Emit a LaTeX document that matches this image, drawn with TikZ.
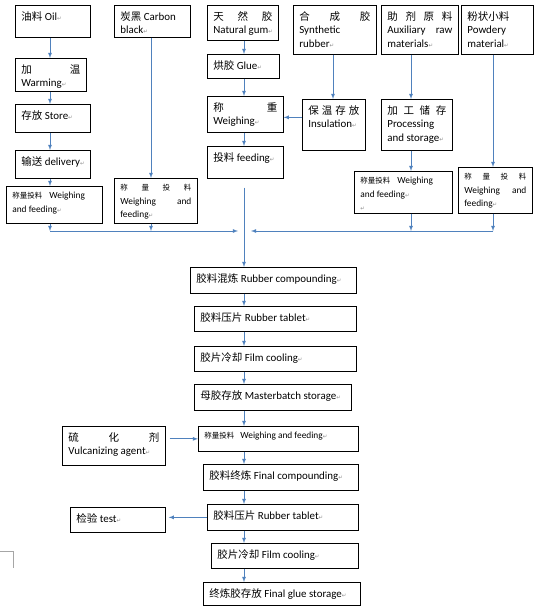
\documentclass[tikz,border=0pt]{standalone}
\usepackage{fontspec}
\setmainfont{Carlito}[Scale=1.04]
\newfontfamily\cjk{Noto Sans CJK SC}
\newfontfamily\retfont{DejaVu Sans}
\definecolor{flowblue}{RGB}{79,129,189}
\newcommand{\zh}[1]{{\cjk #1}}
\newcommand{\zhs}[1]{{\cjk\fontsize{7.5}{13.5}\selectfont #1}}
\newcommand{\ret}{{\retfont\fontsize{5.5}{5.5}\selectfont\color{black!45}↵}}
\newcommand{\boxtext}[3]{\parbox[c][#2pt][t]{#1pt}{\raggedright\vspace*{2pt}#3}}

\begin{document}
\begin{tikzpicture}[x=1pt,y=-1pt]
\tikzstyle{box}=[draw,line width=0.7pt,anchor=north west,inner xsep=6pt,inner ysep=4pt,font=\fontsize{10.5}{13.5}\selectfont]
\tikzstyle{smallbox}=[box,font=\fontsize{9}{13.5}\selectfont]
\tikzstyle{flow}=[draw=flowblue,line width=0.8pt,-latex]
\useasboundingbox (0,0) rectangle (540,607);
% raw materials
\node[box] (oil) at (15,5) {\boxtext{63}{24}{\zh{油料} Oil\ret}};
\node[box] (carbon) at (114,5) {\boxtext{64}{24}{\mbox{\zh{炭黑} Carbon}\\black\ret}};
\node[box] (natural) at (207,5) {\boxtext{59}{27}{\makebox[\linewidth][s]{\zh{天\hfill 然\hfill 胶}}\\\mbox{Natural gum\ret}}};
\node[box] (synthetic) at (293,5) {\boxtext{71}{41}{\makebox[\linewidth][s]{\zh{合\hfill 成\hfill 胶}}\\Synthetic\\rubber\ret}};
\node[box] (auxiliary) at (381,5) {\boxtext{65}{41}{\makebox[\linewidth][s]{\zh{助\hfill 剂\hfill 原\hfill 料}}\\\makebox[\linewidth][s]{Auxiliary raw}\\materials\ret}};
\node[box] (powdery) at (461,5) {\boxtext{60}{41}{\zh{粉状小料}\\Powdery\\material\ret}};
% preparation
\node[box] (warming) at (15,58) {\boxtext{59}{25}{\makebox[\linewidth][s]{\zh{加\hfill 温}}\\Warming\ret}};
\node[box] (glue) at (207,54) {\boxtext{60}{16}{\mbox{\zh{烘胶} Glue\ret}}};
\node[box] (store) at (15,104) {\boxtext{63}{20}{\mbox{\zh{存放} Store\ret}}};
\node[box] (weighing) at (207,96) {\boxtext{64}{28}{\makebox[\linewidth][s]{\zh{称\hfill 重}}\\Weighing\ret}};
\node[box] (insulation) at (302,99) {\boxtext{51}{43}{\makebox[\linewidth][s]{\zh{保\hfill 温\hfill 存\hfill 放}}\\Insulation\ret}};
\node[box] (processing) at (381,99) {\boxtext{59}{43}{\makebox[\linewidth][s]{\zh{加\hfill 工\hfill 储\hfill 存}}\\Processing\\\mbox{and storage\ret}}};
\node[box] (feeding) at (207,146) {\boxtext{64}{24}{\mbox{\zh{投料} feeding\ret}}};
\node[box] (delivery) at (15,150) {\boxtext{63}{20}{\mbox{\zh{输送} delivery\ret}}};
% weighing and feeding
\node[smallbox] (wf1) at (6,186) {\boxtext{84}{29}{\zhs{称量投料}\hspace{7pt}Weighing\\and feeding\ret}};
\node[smallbox] (wf2) at (114,178) {\boxtext{71}{37}{\makebox[\linewidth][s]{\zhs{称\hfill 量\hfill 投\hfill 料}}\\\makebox[\linewidth][s]{Weighing\hfill and}\\feeding\ret}};
\node[smallbox] (wf3) at (354,171) {\boxtext{86}{34}{\zhs{称量投料}\hspace{7pt}Weighing\\and feeding\ret\\\ret}};
\node[smallbox] (wf4) at (458,167) {\boxtext{62}{38}{\makebox[\linewidth][s]{\zhs{称\hfill 量\hfill 投\hfill 料}}\\\makebox[\linewidth][s]{Weighing\hfill and}\\feeding\ret}};
% main line
\node[box] (compound) at (190,267) {\boxtext{154}{18}{\mbox{\zh{胶料混炼} Rubber compounding\ret}}};
\node[box] (tablet) at (194,306) {\boxtext{150}{17}{\zh{胶料压片} Rubber tablet\ret}};
\node[box] (cooling) at (194,346) {\boxtext{150}{17}{\zh{胶片冷却} Film cooling\ret}};
\node[box] (master) at (194,384) {\boxtext{145}{18}{\mbox{\zh{母胶存放} Masterbatch storage\ret}}};
\node[box] (vulc) at (62,426) {\boxtext{91}{31}{\makebox[\linewidth][s]{\zh{硫\hfill 化\hfill 剂}}\\\mbox{Vulcanizing agent\ret}}};
\node[smallbox] (wf5) at (198,426) {\boxtext{148}{17}{\zhs{称量投料}\hspace{6pt}Weighing and feeding\ret}};
\node[box] (final) at (203,464) {\boxtext{143}{18}{\mbox{\zh{胶料终炼} Final compounding\ret}}};
\node[box] (tablet2) at (207,504) {\boxtext{139}{18}{\zh{胶料压片} Rubber tablet\ret}};
\node[box] (test) at (70,507) {\boxtext{83}{17}{\zh{检验} test\ret}};
\node[box] (cooling2) at (211,543) {\boxtext{135}{17}{\zh{胶片冷却} Film cooling\ret}};
\node[box] (store2) at (203,582) {\boxtext{145}{15}{\mbox{\zh{终炼胶存放} Final glue storage\ret}}};
% columns and collecting line
\coordinate (c1) at (50,0);
\coordinate (c2) at (151,0);
\coordinate (c3) at (244,0);
\coordinate (c4) at (333,0);
\coordinate (c5) at (411,0);
\coordinate (c6) at (493,0);
\coordinate (bus) at (0,231);
\coordinate (busl) at (238,231);
\coordinate (busr) at (251,231);
\draw[flow] (oil.south -| c1) -- (warming.north -| c1);
\draw[flow] (warming.south -| c1) -- (store.north -| c1);
\draw[flow] (store.south -| c1) -- (delivery.north -| c1);
\draw[flow] (delivery.south -| c1) -- (wf1.north -| c1);
\draw[flow] (wf1.south -| c1) -- (c1 |- bus);
\draw[flow] (c1 |- bus) -- (busl);
\draw[flow] (carbon.south -| c2) -- (wf2.north -| c2);
\draw[flow] (wf2.south -| c2) -- (c2 |- bus);
\draw[flow] (natural.south -| c3) -- (glue.north -| c3);
\draw[flow] (glue.south -| c3) -- (weighing.north -| c3);
\draw[flow] (weighing.south -| c3) -- (feeding.north -| c3);
\draw[flow] (synthetic.south -| c4) -- (insulation.north -| c4);
\draw[flow] ([yshift=-3pt]weighing.east -| insulation.west) -- ([yshift=-3pt]weighing.east);
\draw[flow] (auxiliary.south -| c5) -- (processing.north -| c5);
\draw[flow] (processing.south -| c5) -- (wf3.north -| c5);
\draw[flow] (wf3.south -| c5) -- (c5 |- bus);
\draw[flow] (powdery.south -| c6) -- (wf4.north -| c6);
\draw[flow] (wf4.south -| c6) -- (c6 |- bus);
\draw[flow] (c6 |- bus) -- (busr);
\draw[flow] ([yshift=-9pt]feeding.south -| c3) -- (compound.north -| c3);
\draw[flow] (compound.south -| c3) -- (tablet.north -| c3);
\draw[flow] (tablet.south -| c3) -- (cooling.north -| c3);
\draw[flow] (cooling.south -| c3) -- (master.north -| c3);
\draw[flow] (master.south -| c3) -- (wf5.north -| c3);
\draw[flow] ([xshift=4pt]vulc.east |- wf5.west) -- (wf5.west);
\draw[flow] (wf5.south -| c3) -- (final.north -| c3);
\draw[flow] (final.south -| c3) -- (tablet2.north -| c3);
\draw[flow] (tablet2.west) -- ([xshift=3pt]test.east |- tablet2.west);
\draw[flow] (tablet2.south -| c3) -- (cooling2.north -| c3);
\draw[flow] (cooling2.south -| c3) -- (store2.north -| c3);
% page corner mark
\draw[black!35,line width=0.6pt] (0,551) -| (13,568);
\end{tikzpicture}
\end{document}
